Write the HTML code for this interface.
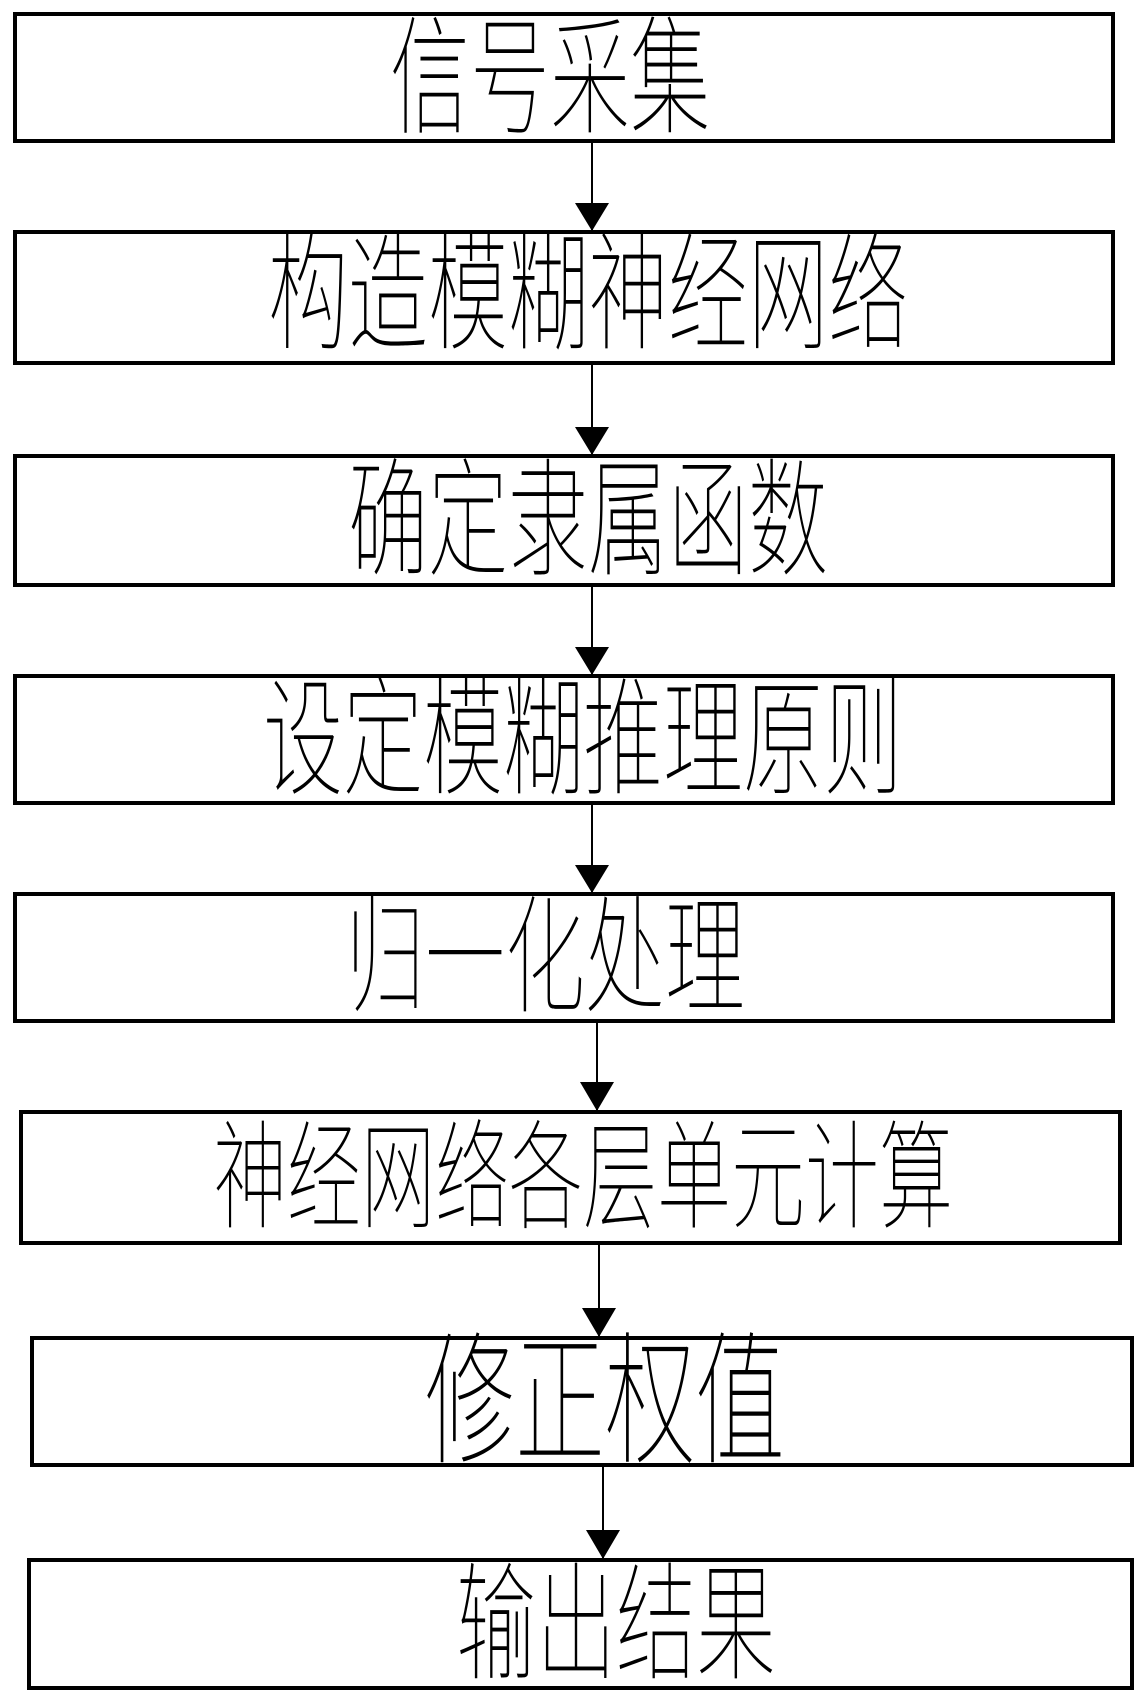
<!DOCTYPE html>
<html><head><meta charset="utf-8"><style>
html,body{margin:0;padding:0;background:#fff;width:1144px;height:1704px;overflow:hidden;position:relative}
.b{position:absolute;border:4px solid #000;box-sizing:border-box;background:#fff}
.t{position:absolute;font-family:"Liberation Sans","Noto Sans CJK SC","WenQuanYi Zen Hei",sans-serif;font-size:80px;font-weight:100;line-height:1;white-space:nowrap;transform:translate(-50%,-50%) scaleY(1.6);color:#000}
</style></head><body>
<svg width="1144" height="1704" style="position:absolute;left:0;top:0">
<g stroke="#000" stroke-width="2">
<line x1="592" y1="142" x2="592" y2="231"/>
<line x1="592" y1="364" x2="592" y2="455"/>
<line x1="592" y1="586" x2="592" y2="675"/>
<line x1="592" y1="804" x2="592" y2="893"/>
<line x1="597" y1="1022" x2="597" y2="1111"/>
<line x1="599" y1="1244" x2="599" y2="1337"/>
<line x1="603" y1="1466" x2="603" y2="1559"/>
</g>
<g fill="#000">
<polygon points="575,203 609,203 592,231"/>
<polygon points="575,427 609,427 592,455"/>
<polygon points="575,647 609,647 592,675"/>
<polygon points="575,865 609,865 592,893"/>
<polygon points="580,1082 614,1082 597,1111"/>
<polygon points="582,1308 616,1308 599,1337"/>
<polygon points="586,1530 620,1530 603,1559"/>
</g>
</svg>
<div class="b" style="left:13px;top:12px;width:1102px;height:131px"></div>
<div class="b" style="left:13px;top:230px;width:1102px;height:135px"></div>
<div class="b" style="left:13px;top:454px;width:1102px;height:133px"></div>
<div class="b" style="left:13px;top:674px;width:1102px;height:131px"></div>
<div class="b" style="left:13px;top:892px;width:1102px;height:131px"></div>
<div class="b" style="left:19px;top:1110px;width:1103px;height:135px"></div>
<div class="b" style="left:30px;top:1336px;width:1104px;height:131px"></div>
<div class="b" style="left:27px;top:1558px;width:1107px;height:132px"></div>
<div class="t" style="left:550px;top:80px">信号采集</div>
<div class="t" style="left:588px;top:296px">构造模糊神经网络</div>
<div class="t" style="left:588px;top:522px">确定隶属函数</div>
<div class="t" style="left:583px;top:741px">设定模糊推理原则</div>
<div class="t" style="left:545px;top:959px">归一化处理</div>
<div class="t" style="left:583px;top:1179px;font-size:74px">神经网络各层单元计算</div>
<div class="t" style="left:605px;top:1404px;font-size:90px">修正权值</div>
<div class="t" style="left:616px;top:1626px">输出结果</div>
</body></html>
